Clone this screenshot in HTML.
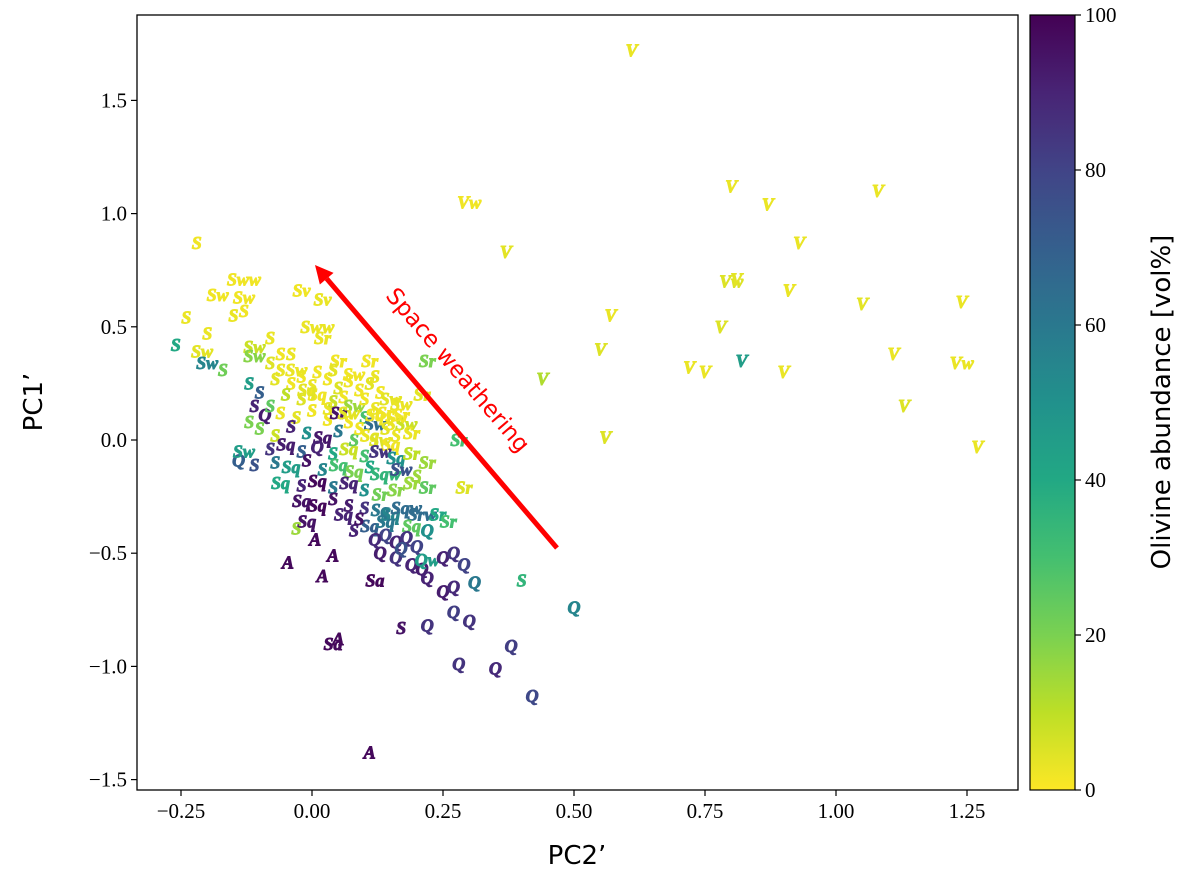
<!DOCTYPE html>
<html><head><meta charset="utf-8"><style>body{margin:0;background:#fff}svg{display:block}</style></head>
<body>
<svg id="chart" width="1200" height="879" xmlns="http://www.w3.org/2000/svg"></svg>
<script>
const xTicks=[-0.25,0,0.25,0.5,0.75,1.0,1.25];
const xTickLabels=["\u22120.25","0.00","0.25","0.50","0.75","1.00","1.25"];
const yTicks=[-1.5,-1.0,-0.5,0,0.5,1.0,1.5];
const yTickLabels=["\u22121.5","\u22121.0","\u22120.5","0.0","0.5","1.0","1.5"];
const cbTicks=[0,20,40,60,80,100];
const points=[
[0.61,1.72,'V',3],[0.80,1.12,'V',3],[1.08,1.10,'V',3],[0.87,1.04,'V',3],[0.30,1.05,'Vw',2],[0.37,0.83,'V',4],[0.93,0.87,'V',3],[0.80,0.70,'Vw',5],[0.81,0.71,'V',4],[0.57,0.55,'V',3],[0.91,0.66,'V',3],[1.05,0.60,'V',4],[1.24,0.61,'V',3],[0.78,0.50,'V',5],[0.55,0.40,'V',5],[1.11,0.38,'V',3],[0.82,0.35,'V',45],[0.44,0.27,'V',12],[0.72,0.32,'V',3],[0.75,0.30,'V',3],[0.90,0.30,'V',3],[1.24,0.34,'Vw',3],[1.13,0.15,'V',5],[0.56,0.01,'V',5],[1.27,-0.03,'V',3],
[-0.22,0.87,'S',2],[-0.13,0.71,'Sww',2],[-0.18,0.64,'Sw',2],[-0.13,0.63,'Sw',2],[-0.24,0.54,'S',3],[-0.15,0.55,'S',3],[-0.13,0.57,'S',2],[-0.02,0.66,'Sv',2],[0.02,0.62,'Sv',3],[-0.26,0.42,'S',40],[-0.20,0.47,'S',3],[-0.21,0.39,'Sw',4],[-0.20,0.34,'Sw',55],[-0.17,0.31,'S',22],[-0.11,0.41,'Sw',8],[-0.11,0.37,'Sw',18],[-0.08,0.45,'S',3],[0.01,0.50,'Sww',3],[0.02,0.45,'Sr',3],[-0.04,0.38,'S',3],[-0.06,0.38,'S',2],[-0.08,0.34,'S',5],[-0.06,0.31,'S',3],[0.05,0.35,'Sr',2],[0.11,0.35,'Sr',2],[0.22,0.35,'Sr',20],[0.21,0.20,'Sr',4],[0.28,0.00,'Sr',30],[0.29,-0.21,'Sr',5],[-0.12,0.25,'S',45],[-0.10,0.21,'S',70],[-0.11,0.15,'S',90],[-0.12,0.08,'S',20],[-0.09,0.11,'Q',92],[-0.14,-0.09,'Q',70],
[-0.07,0.27,'S',4],[-0.04,0.25,'S',2],[-0.02,0.28,'S',2],[0.00,0.24,'S',3],[0.03,0.27,'S',2],[0.05,0.23,'S',5],[0.07,0.26,'S',2],[0.09,0.22,'S',2],[0.11,0.25,'S',4],[0.13,0.21,'S',2],[0.15,0.18,'Sw',4],[0.17,0.16,'Sw',3],[-0.05,0.20,'S',10],[-0.02,0.18,'S',5],[0.01,0.20,'Sq',2],[0.04,0.17,'S',8],[0.06,0.19,'S',2],[0.08,0.15,'Sw',15],[0.10,0.18,'S',2],[0.12,0.14,'S',3],[0.14,0.12,'Sr',2],[0.16,0.10,'Sw',2],[0.18,0.07,'Sw',8],[0.19,0.03,'Sr',3],[-0.08,0.15,'S',25],[-0.06,0.12,'S',3],[-0.03,0.10,'S',4],[0.00,0.13,'S',2],[0.03,0.09,'S',2],[0.05,0.12,'Sr',95],[0.07,0.08,'S',2],[0.10,0.10,'S',30],[0.12,0.07,'Sw',65],[0.14,0.05,'S',4],[0.16,0.02,'S',3],[-0.10,0.05,'S',20],[-0.07,0.02,'S',8],[-0.04,0.06,'S',90],[-0.01,0.03,'S',50],[0.02,0.01,'Sq',93],[0.05,0.04,'S',60],[0.08,0.00,'S',25],[0.11,0.02,'Sq',3],
[-0.03,0.31,'Sw',3],[0.01,0.30,'S',2],[0.04,0.31,'S',4],[0.08,0.29,'Sw',2],[0.12,0.28,'S',3],[-0.01,0.22,'Sq',4],[0.03,0.14,'S',3],[0.07,0.12,'Sw',4],[0.12,0.11,'Sq',2],[0.15,0.07,'S',3],[0.17,0.11,'Sr',2],[0.09,0.05,'S',2],[0.13,0.00,'Sw',5],[0.15,-0.02,'Sq',2],
[-0.13,-0.05,'Sw',45],[-0.08,-0.04,'S',85],[-0.05,-0.02,'Sq',92],[-0.02,-0.05,'S',70],[0.01,-0.03,'Q',90],[0.04,-0.06,'S',40],[0.07,-0.04,'Sq',8],[0.10,-0.07,'S',30],[0.13,-0.05,'Sw',85],[0.16,-0.08,'Sq',50],[0.19,-0.06,'Sr',10],[0.22,-0.10,'Sr',15],[-0.11,-0.11,'S',75],[-0.07,-0.10,'S',60],[-0.04,-0.12,'Sq',45],[-0.01,-0.09,'S',95],[0.02,-0.13,'S',55],[0.05,-0.11,'Sq',30],[0.08,-0.14,'Sq',20],[0.11,-0.12,'S',40],[0.14,-0.15,'Sqw',35],[0.17,-0.13,'Sw',75],[0.20,-0.16,'S',15],[-0.06,-0.19,'Sq',40],[-0.02,-0.20,'S',90],[0.01,-0.18,'Sq',98],[0.04,-0.21,'S',60],[0.07,-0.19,'Sq',90],[0.10,-0.22,'S',50],[0.13,-0.24,'Sr',22],[0.16,-0.22,'Sr',18],[0.19,-0.19,'Sr',15],[0.22,-0.21,'Sr',25],
[-0.02,-0.27,'Sq',95],[0.01,-0.29,'Sq',98],[0.04,-0.26,'S',95],[0.07,-0.29,'S',92],[0.10,-0.30,'S',85],[0.13,-0.31,'Sq',60],[0.15,-0.33,'Sq',55],[0.18,-0.30,'Sqw',65],[0.21,-0.33,'Srw',65],[0.24,-0.33,'Sr',40],[0.26,-0.36,'Sr',30],[0.19,-0.38,'Sq',25],[0.22,-0.40,'Q',50],[-0.01,-0.36,'Sq',95],[-0.03,-0.39,'S',15],[0.08,-0.40,'S',90],[0.11,-0.38,'Sq',70],[0.14,-0.42,'Q',80],[0.16,-0.45,'Q',90],[0.18,-0.43,'Q',85],[0.20,-0.47,'Q',80],[0.13,-0.50,'Q',92],[0.16,-0.52,'Q',85],[0.19,-0.55,'Q',90],[0.21,-0.57,'Q',92],[0.22,-0.53,'Qw',45],[0.25,-0.52,'Q',90],[0.27,-0.50,'Q',85],[0.29,-0.55,'Q',80],[0.22,-0.61,'Q',90],[0.25,-0.67,'Q',92],[0.27,-0.65,'Q',88],[0.27,-0.76,'Q',82],[0.31,-0.63,'Q',60],[0.40,-0.62,'S',35],[0.50,-0.74,'Q',55],[0.17,-0.83,'S',95],[0.22,-0.82,'Q',85],[0.30,-0.80,'Q',85],[0.38,-0.91,'Q',82],[0.28,-0.99,'Q',85],[0.35,-1.01,'Q',88],[0.42,-1.13,'Q',78],
[0.06,-0.33,'Sq',90],[0.09,-0.35,'S',95],[0.12,-0.44,'Q',88],[0.17,-0.48,'Q',75],[0.14,-0.36,'Sq',60],
[-0.046,-0.54,'A',98],[0.006,-0.44,'A',98],[0.04,-0.51,'A',98],[0.02,-0.60,'A',98],[0.12,-0.62,'Sa',98],[0.04,-0.90,'Sa',98],[0.05,-0.88,'A',98],[0.11,-1.38,'A',98]
];
const NS='http://www.w3.org/2000/svg';
const svg=document.getElementById('chart');
const L=137,R=1018,T=15,B=790;
const X=v=>312+v*524, Y=v=>440-v*226.4;
function mk(t,a,p){const e=document.createElementNS(NS,t);for(const k in a)e.setAttribute(k,a[k]);(p||svg).appendChild(e);return e;}
const vir=[[68,1,84],[72,36,117],[65,68,135],[53,95,141],[42,120,142],[33,145,140],[34,168,132],[68,191,112],[122,209,81],[189,223,38],[253,231,37]];
function viridis(t){t=Math.max(0,Math.min(1,t));const s=t*(vir.length-1),i=Math.min(Math.floor(s),vir.length-2),f=s-i;const c=vir[i].map((v,k)=>Math.round(v+(vir[i+1][k]-v)*f));return `rgb(${c})`;}
const col=o=>viridis(1-o/100);
const g=mk('g',{});


points.forEach(p=>{const c=col(p[3]);const t=mk('text',{x:X(p[0]),y:Y(p[1])+6,'text-anchor':'middle','font-family':'"Liberation Serif",serif','font-weight':'bold','font-style':'italic','font-size':18,fill:c,stroke:c,'stroke-width':0.9},g);t.textContent=p[2];

});
const fr=mk('rect',{x:L,y:T,width:R-L,height:B-T,fill:'none',stroke:'#000','stroke-width':1.3});


xTicks.forEach((v,i)=>{mk('line',{x1:X(v),x2:X(v),y1:B,y2:B+6,stroke:'#000','stroke-width':1.2});const t=mk('text',{x:X(v),y:B+28,'text-anchor':'middle','font-family':'"Liberation Serif",serif','font-size':21});t.textContent=xTickLabels[i];

});
yTicks.forEach((v,i)=>{mk('line',{x1:L-6,x2:L,y1:Y(v),y2:Y(v),stroke:'#000','stroke-width':1.2});const t=mk('text',{x:L-10,y:Y(v)+7,'text-anchor':'end','font-family':'"Liberation Serif",serif','font-size':21});t.textContent=yTickLabels[i];

});
let t=mk('text',{x:577,y:864,'text-anchor':'middle','font-family':'"DejaVu Sans",sans-serif','font-size':26});t.textContent="PC2\u2019";


t=mk('text',{x:0,y:0,transform:'translate(42,402) rotate(-90)','text-anchor':'middle','font-family':'"DejaVu Sans",sans-serif','font-size':26});t.textContent="PC1\u2019";


const ax1=557,ay1=548,ax2=315,ay2=265;
const ang=Math.atan2(ay2-ay1,ax2-ax1);
const ex=ax2-18*Math.cos(ang),ey=ay2-18*Math.sin(ang);
const al=mk('line',{x1:ax1,y1:ay1,x2:ex,y2:ey,stroke:'#f00','stroke-width':5});


const px=Math.cos(ang+Math.PI/2),py=Math.sin(ang+Math.PI/2);
mk('polygon',{points:`${ax2},${ay2} ${ex+9*px},${ey+9*py} ${ex-9*px},${ey-9*py}`,fill:'#f00'});
t=mk('text',{x:0,y:0,transform:'translate(452,375) rotate(49.5)','text-anchor':'middle','font-family':'"DejaVu Sans",sans-serif','font-size':23,fill:'#f00'});t.textContent="Space weathering";


const defs=mk('defs',{});const lg=mk('linearGradient',{id:'cb',x1:0,y1:1,x2:0,y2:0},defs);
for(let i=0;i<=20;i++)mk('stop',{offset:i/20,'stop-color':col(i*5)},lg);
const CL=1030,CR=1075;
const cb=mk('rect',{x:CL,y:T,width:CR-CL,height:B-T,fill:'url(#cb)',stroke:'#000','stroke-width':1.2});


cbTicks.forEach(v=>{const y=B-(B-T)*v/100;mk('line',{x1:CR,x2:CR+6,y1:y,y2:y,stroke:'#000','stroke-width':1.2});const s=mk('text',{x:CR+10,y:y+7,'font-family':'"Liberation Serif",serif','font-size':21});s.textContent=v;

});
t=mk('text',{x:0,y:0,transform:'translate(1170,402) rotate(-90)','text-anchor':'middle','font-family':'"DejaVu Sans",sans-serif','font-size':26});t.textContent="Olivine abundance [vol%]";


</script>
</body></html>
